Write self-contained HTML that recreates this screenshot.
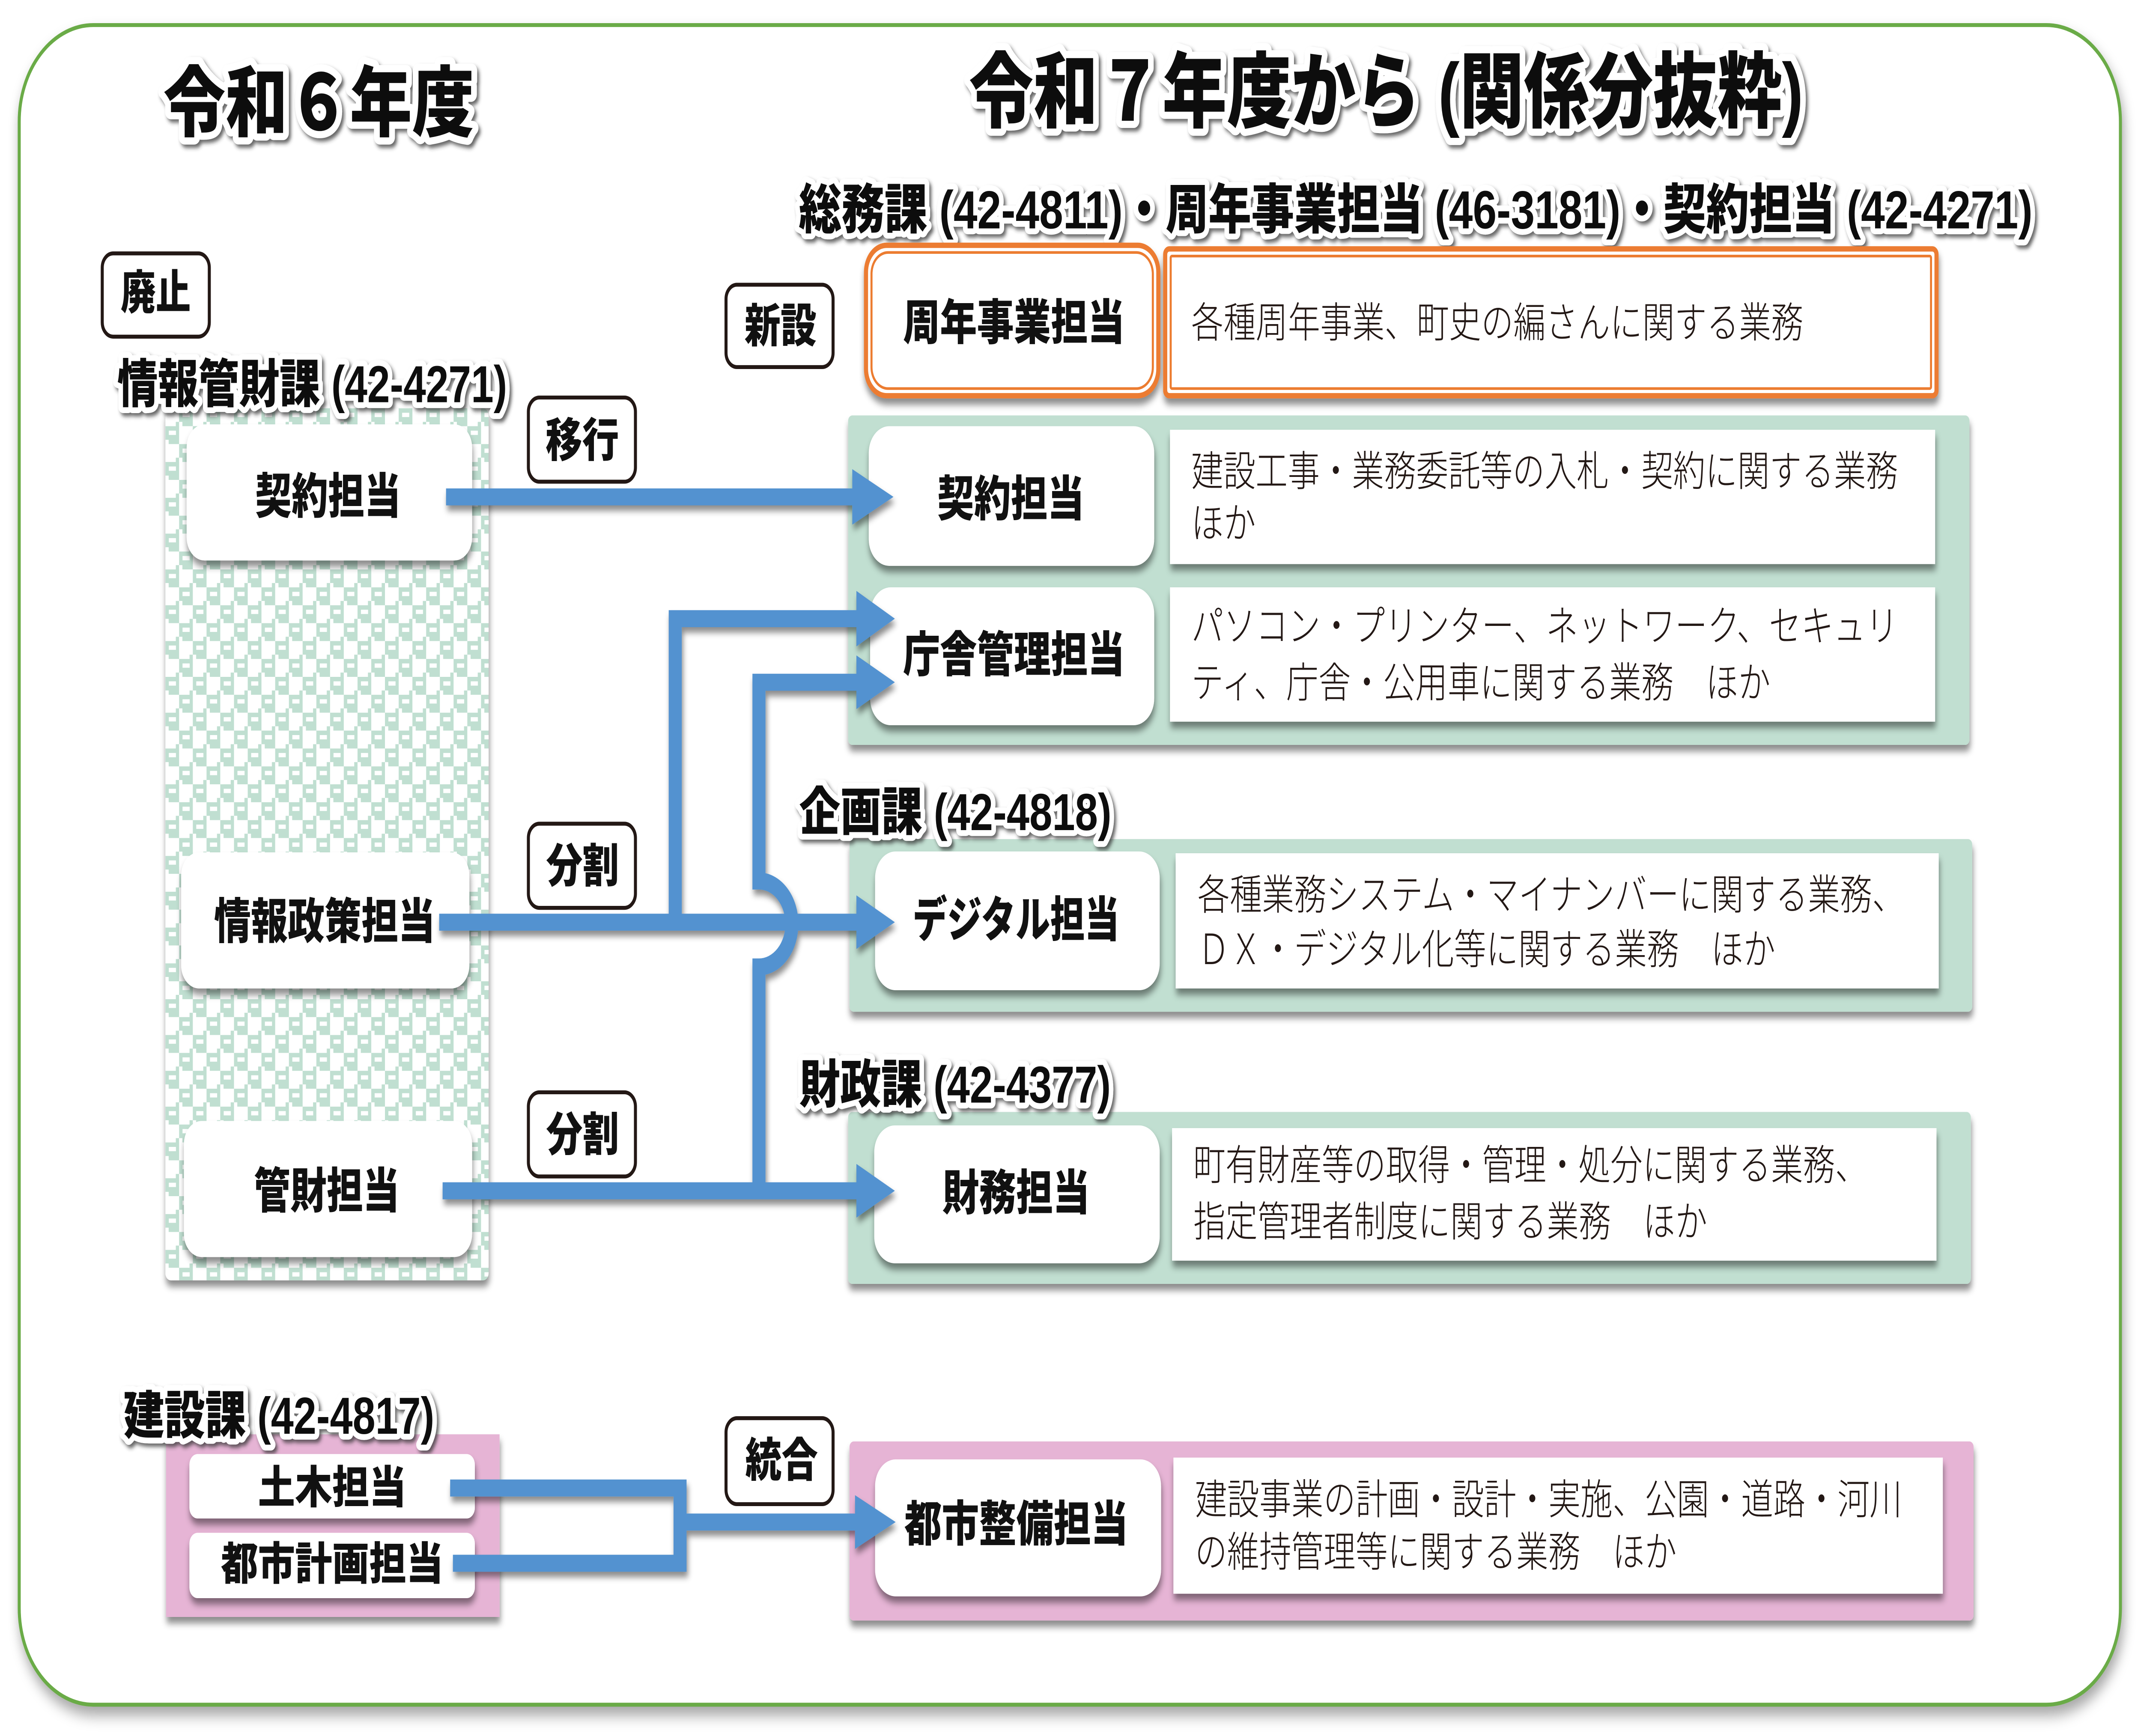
<!DOCTYPE html>
<html lang="ja">
<head>
<meta charset="utf-8">
<meta name="viewport" content="width=device-width, initial-scale=1">
<style>
html,body{margin:0;padding:0;background:#fff;width:100%;height:100%;overflow:hidden;}
svg{display:block;width:100vw;height:100vh;position:absolute;left:0;top:0;}
text{font-family:"Liberation Sans","Noto Sans CJK JP",sans-serif;dominant-baseline:central;}
.hd{font-weight:900;fill:#111;stroke:#fff;stroke-linejoin:round;paint-order:stroke;}
.lb{font-weight:900;fill:#111;}
.ds{font-weight:300;fill:#231815;font-size:23.4px;}
</style>
</head>
<body>
<svg xmlns="http://www.w3.org/2000/svg" viewBox="0 0 1560 969.48" preserveAspectRatio="none" overflow="hidden">
<defs>
  <filter id="sh" x="-3%" y="-10%" width="106%" height="130%">
    <feDropShadow dx="0.5" dy="3.5" stdDeviation="2" flood-color="#000" flood-opacity="0.45"/>
  </filter>
  <filter id="ash" filterUnits="userSpaceOnUse" x="300" y="240" width="380" height="660">
    <feDropShadow dx="1" dy="3" stdDeviation="1.8" flood-color="#000" flood-opacity="0.45"/>
  </filter>
  <filter id="tsh" x="-3%" y="-30%" width="106%" height="170%">
    <feDropShadow dx="1.5" dy="1.8" stdDeviation="1.2" flood-color="#333" flood-opacity="0.75"/>
  </filter>
  <filter id="osh" filterUnits="userSpaceOnUse" x="0" y="0" width="1560" height="969">
    <feDropShadow dx="1.5" dy="5" stdDeviation="4" flood-color="#000" flood-opacity="0.35"/>
  </filter>
  <pattern id="chk" x="120.5" y="228" width="20" height="20" patternUnits="userSpaceOnUse">
    <rect width="20" height="20" fill="#ffffff"/>
    <rect x="10" y="0" width="10" height="10" fill="#c0dfd1"/>
    <rect x="0" y="10" width="10" height="10" fill="#c0dfd1"/>
    <rect x="12.5" y="2.5" width="5.2" height="2.4" fill="#ffffff"/>
    <rect x="2.5" y="12.5" width="5.2" height="2.4" fill="#ffffff"/>
    <rect x="7.6" y="7.6" width="2.4" height="2.4" fill="#c0dfd1"/>
    <rect x="17.6" y="17.6" width="2.4" height="2.4" fill="#c0dfd1"/>
    <rect x="10" y="7.6" width="2.4" height="2.4" fill="#ffffff"/>
    <rect x="0" y="17.6" width="2.4" height="2.4" fill="#ffffff"/>
  </pattern>
</defs>

<!-- outer frame -->
<rect x="14" y="14" width="1531" height="938" rx="54" ry="54" fill="#fff" stroke="#6aab46" stroke-width="2.2" filter="url(#osh)"/>

<!-- Titles -->
<g filter="url(#tsh)">
  <text class="hd" x="119" y="57.75" font-size="43" stroke-width="8" textLength="226.5" lengthAdjust="spacingAndGlyphs">令和６年度</text>
  <text class="hd" x="706" y="51.75" font-size="46" stroke-width="8" textLength="608" lengthAdjust="spacingAndGlyphs">令和７年度から (関係分抜粋)</text>
  <text class="hd" x="582" y="117.2" font-size="30" stroke-width="6.5" textLength="899" lengthAdjust="spacingAndGlyphs">総務課 (42-4811)・周年事業担当 (46-3181)・契約担当 (42-4271)</text>
</g>

<!-- Left checker panel -->
<rect x="120.5" y="228" width="235.5" height="487" rx="4" fill="url(#chk)" filter="url(#sh)"/>

<!-- Left pink panel -->
<rect x="121" y="801" width="243" height="102" fill="#e6b4d5" filter="url(#sh)"/>

<!-- Right green panels -->
<rect x="618" y="232" width="817" height="184" rx="3" fill="#c1dfd1" filter="url(#sh)"/>
<rect x="619" y="468.6" width="818" height="96.4" rx="3" fill="#c1dfd1" filter="url(#sh)"/>
<rect x="618" y="621" width="818" height="96" rx="3" fill="#c1dfd1" filter="url(#sh)"/>
<rect x="619" y="805" width="819" height="100" rx="3" fill="#e6b4d5" filter="url(#sh)"/>

<!-- Section headings -->
<g filter="url(#tsh)">
  <text class="hd" x="85.5" y="214.5" font-size="29" stroke-width="6.5" textLength="284" lengthAdjust="spacingAndGlyphs">情報管財課 (42-4271)</text>
  <text class="hd" x="582.4" y="453.5" font-size="29" stroke-width="6.5" textLength="227.5" lengthAdjust="spacingAndGlyphs">企画課 (42-4818)</text>
  <text class="hd" x="582.4" y="605.7" font-size="29" stroke-width="6.5" textLength="227" lengthAdjust="spacingAndGlyphs">財政課 (42-4377)</text>
  <text class="hd" x="90" y="790.6" font-size="29" stroke-width="6.5" textLength="226.5" lengthAdjust="spacingAndGlyphs">建設課 (42-4817)</text>
</g>

<!-- Left white boxes -->
<g filter="url(#sh)" fill="#fff">
  <rect x="136" y="237" width="208" height="76" rx="13"/>
  <rect x="132" y="476" width="210" height="76" rx="13"/>
  <rect x="134" y="626" width="210" height="76" rx="13"/>
  <rect x="138" y="812" width="208" height="36" rx="6"/>
  <rect x="138" y="856" width="208" height="36.5" rx="6"/>
</g>

<!-- Orange boxes -->
<g filter="url(#sh)">
  <rect x="631" y="137" width="213" height="84" rx="15" fill="#fff" stroke="#ec7c30" stroke-width="3"/>
  <rect x="849" y="139" width="562" height="82" rx="3" fill="#fff" stroke="#ec7c30" stroke-width="3"/>
</g>
<rect x="635" y="141" width="205" height="76" rx="12" fill="none" stroke="#ec7c30" stroke-width="1.5"/>
<rect x="853" y="143" width="554" height="74" rx="1" fill="none" stroke="#ec7c30" stroke-width="1.5"/>

<!-- Right white label boxes and description boxes -->
<g filter="url(#sh)" fill="#fff">
  <rect x="633" y="238" width="208" height="78" rx="15"/>
  <rect x="634" y="328" width="207" height="77" rx="15"/>
  <rect x="637.6" y="475.5" width="207.4" height="77.5" rx="15"/>
  <rect x="637" y="628.5" width="208" height="77" rx="15"/>
  <rect x="637.6" y="815" width="208.4" height="76.5" rx="15"/>

  <rect x="852.5" y="240" width="557.5" height="75"/>
  <rect x="852.5" y="328" width="557.5" height="75"/>
  <rect x="856.6" y="476.5" width="556" height="75.5"/>
  <rect x="854" y="630" width="557" height="74"/>
  <rect x="855" y="814" width="560.6" height="76"/>
</g>

<!-- Black-bordered tag boxes -->
<g fill="#fff" stroke="#231815" stroke-width="2.2">
  <rect x="74.5" y="141.5" width="78" height="46.5" rx="8"/>
  <rect x="385" y="222" width="78" height="47" rx="8"/>
  <rect x="385" y="460" width="78" height="47" rx="8"/>
  <rect x="385" y="610" width="78" height="47" rx="8"/>
  <rect x="529" y="159" width="78" height="46" rx="8"/>
  <rect x="529" y="792" width="78" height="48" rx="8"/>
</g>
<g font-size="26">
  <text class="lb" x="88" y="163.5" textLength="51" lengthAdjust="spacingAndGlyphs">廃止</text>
  <text class="lb" x="397.5" y="246" textLength="53.5" lengthAdjust="spacingAndGlyphs">移行</text>
  <text class="lb" x="398" y="483.7" textLength="53" lengthAdjust="spacingAndGlyphs">分割</text>
  <text class="lb" x="398" y="633.7" textLength="53" lengthAdjust="spacingAndGlyphs">分割</text>
  <text class="lb" x="542.5" y="182" textLength="52.5" lengthAdjust="spacingAndGlyphs">新設</text>
  <text class="lb" x="543" y="815.5" textLength="53" lengthAdjust="spacingAndGlyphs">統合</text>
</g>

<!-- Arrows -->
<g filter="url(#ash)">
  <g fill="none" stroke="#5292d0" stroke-width="9.5" stroke-linejoin="miter" stroke-linecap="butt">
    <path d="M325 277.5 H626"/>
    <path d="M320 515 H626"/>
    <path d="M492 515 V345.5 H626"/>
    <path d="M322.5 665 H626"/>
    <path d="M553 665 V540 A24 24 0 0 0 553 492 V381 H626"/>
    <path d="M328 831 H495.5 V873 H330"/>
    <path d="M495.5 850 H626"/>
  </g>
  <g fill="#5292d0">
    <polygon points="621,262 651,277.5 621,293"/>
    <polygon points="624,500 652,515 624,530"/>
    <polygon points="624,330 652,345.5 624,361"/>
    <polygon points="624,650 652,665 624,680"/>
    <polygon points="624,366 652,381 624,396"/>
    <polygon points="623,835 652.6,850 623,865"/>
  </g>
</g>

<!-- Box labels (bold) -->
<g font-size="27">
  <text class="lb" x="186" y="277.5" textLength="106" lengthAdjust="spacingAndGlyphs">契約担当</text>
  <text class="lb" x="156" y="515" textLength="161" lengthAdjust="spacingAndGlyphs">情報政策担当</text>
  <text class="lb" x="185" y="665.5" textLength="106" lengthAdjust="spacingAndGlyphs">管財担当</text>
  <text class="lb" x="188" y="830.8" font-size="25" textLength="108" lengthAdjust="spacingAndGlyphs">土木担当</text>
  <text class="lb" x="161" y="873.5" font-size="25" textLength="162" lengthAdjust="spacingAndGlyphs">都市計画担当</text>
  <text class="lb" x="658" y="180.5" textLength="161.5" lengthAdjust="spacingAndGlyphs">周年事業担当</text>
  <text class="lb" x="683" y="279" textLength="107" lengthAdjust="spacingAndGlyphs">契約担当</text>
  <text class="lb" x="658" y="366" textLength="161.5" lengthAdjust="spacingAndGlyphs">庁舎管理担当</text>
  <text class="lb" x="665" y="514" textLength="150.5" lengthAdjust="spacingAndGlyphs">デジタル担当</text>
  <text class="lb" x="686.6" y="666.5" textLength="107.4" lengthAdjust="spacingAndGlyphs">財務担当</text>
  <text class="lb" x="659" y="851.5" textLength="163" lengthAdjust="spacingAndGlyphs">都市整備担当</text>
</g>

<!-- Descriptions -->
<g>
  <text class="ds" x="868" y="180.5" textLength="446" lengthAdjust="spacingAndGlyphs">各種周年事業、町史の編さんに関する業務</text>
  <text class="ds" x="868" y="263.5" textLength="515" lengthAdjust="spacingAndGlyphs">建設工事・業務委託等の入札・契約に関する業務</text>
  <text class="ds" x="868" y="292.5" textLength="47" lengthAdjust="spacingAndGlyphs">ほか</text>
  <text class="ds" x="868" y="350" textLength="515" lengthAdjust="spacingAndGlyphs">パソコン・プリンター、ネットワーク、セキュリ</text>
  <text class="ds" x="868" y="381.5" textLength="422" lengthAdjust="spacingAndGlyphs">ティ、庁舎・公用車に関する業務　ほか</text>
  <text class="ds" x="872.6" y="500" textLength="515" lengthAdjust="spacingAndGlyphs">各種業務システム・マイナンバーに関する業務、</text>
  <text class="ds" x="872.6" y="530.5" textLength="421" lengthAdjust="spacingAndGlyphs">ＤＸ・デジタル化等に関する業務　ほか</text>
  <text class="ds" x="869.5" y="651" textLength="491" lengthAdjust="spacingAndGlyphs">町有財産等の取得・管理・処分に関する業務、</text>
  <text class="ds" x="869.5" y="682.5" textLength="374.5" lengthAdjust="spacingAndGlyphs">指定管理者制度に関する業務　ほか</text>
  <text class="ds" x="870.7" y="837.7" textLength="515" lengthAdjust="spacingAndGlyphs">建設事業の計画・設計・実施、公園・道路・河川</text>
  <text class="ds" x="870.7" y="867" textLength="351" lengthAdjust="spacingAndGlyphs">の維持管理等に関する業務　ほか</text>
</g>
</svg>
</body>
</html>
